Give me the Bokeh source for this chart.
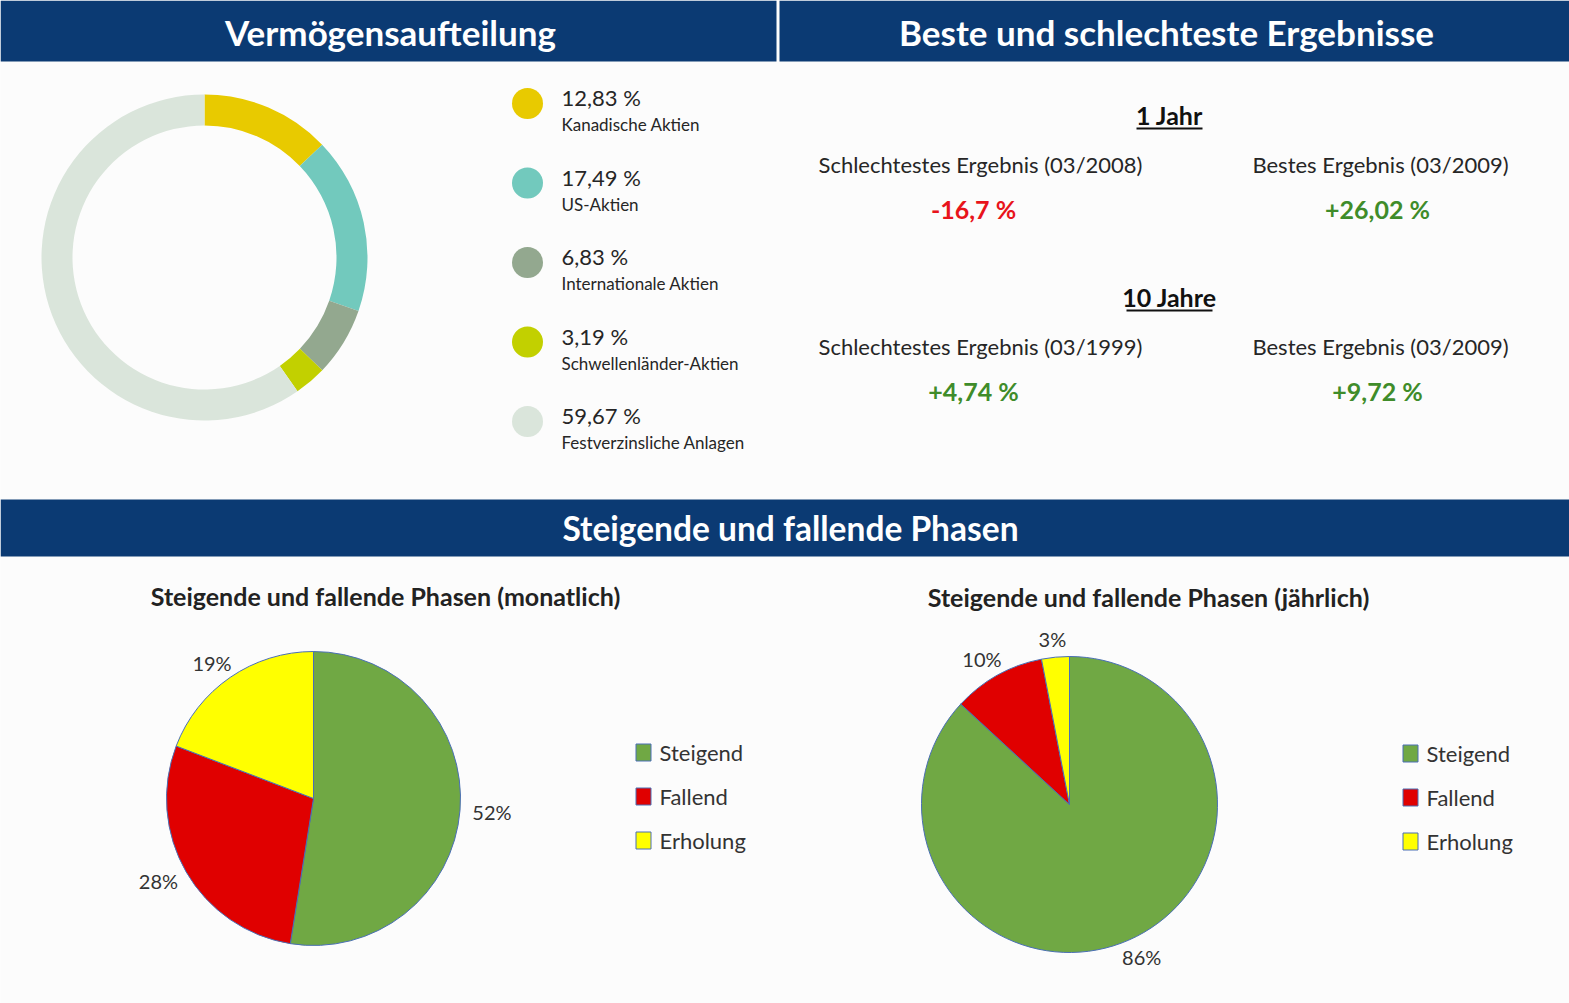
import math
from bokeh.plotting import figure
from bokeh.models import Range1d
from bokeh.embed import file_html
from bokeh.resources import INLINE
from bokeh.core.properties import value

# ---------------- data ----------------
alloc_labels = ["Kanadische Aktien", "US-Aktien", "Internationale Aktien",
                "Schwellenländer-Aktien", "Festverzinsliche Anlagen"]
alloc_values = [12.83, 17.49, 6.83, 3.19, 59.67]
alloc_colors = ["#E8CA00", "#72C9BD", "#93A88F", "#C2D000", "#DAE5DB"]

result_periods = ["1 Jahr", "10 Jahre"]
worst_labels = ["Schlechtestes Ergebnis (03/2008)", "Schlechtestes Ergebnis (03/1999)"]
worst_values = [-16.7, 4.74]
best_labels = ["Bestes Ergebnis (03/2009)", "Bestes Ergebnis (03/2009)"]
best_values = [26.02, 9.72]

phase_labels = ["Steigend", "Fallend", "Erholung"]
phase_colors = ["#70A844", "#E00000", "#FFFF00"]
monthly_values = [52, 28, 19]
yearly_values = [86, 10, 3]

headers = ["Vermögensaufteilung", "Beste und schlechteste Ergebnisse",
           "Steigende und fallende Phasen"]
pie_titles = ["Steigende und fallende Phasen (monatlich)",
              "Steigende und fallende Phasen (jährlich)"]

# ---------------- styling / layout ----------------
W, H = 1569, 1003
FONT = value("Lato")
NAVY = "#0B3A73"
TXT = "#262626"
RED = "#E8141B"
GREEN = "#3F8C2A"


def Y(t):
    return H - t


p = figure(width=W, height=H, x_range=Range1d(0, W), y_range=Range1d(0, H),
           output_backend="svg", toolbar_location=None,
           x_axis_location=None, y_axis_location=None, min_border=0)
p.grid.visible = False
p.outline_line_color = None
p.background_fill_color = "#FCFCFC"
p.border_fill_color = "#FCFCFC"

# header bars
p.quad(left=[0, 779, 0], right=[776, W, W], top=[Y(0), Y(0), Y(499)],
       bottom=[Y(61), Y(61), Y(556)], fill_color=NAVY, line_color=None)
p.text(x=[390, 1166], y=[Y(31), Y(31)], text=headers[:2],
       text_font=FONT, text_font_style="bold", text_font_size="35px",
       text_color="white", text_align="center", text_baseline="middle")
p.text(x=[790], y=[Y(527)], text=headers[2:],
       text_font=FONT, text_font_style="bold", text_font_size="33.5px",
       text_color="white", text_align="center", text_baseline="middle")

# ---------------- donut ----------------
tot = sum(alloc_values)
starts, ends, c = [], [], 0.0
for v in alloc_values:
    starts.append(math.pi / 2 - 2 * math.pi * c / tot)
    c += v
    ends.append(math.pi / 2 - 2 * math.pi * c / tot)
p.annular_wedge(x=204, y=Y(257), inner_radius=132, outer_radius=163,
                start_angle=starts, end_angle=ends, direction="clock",
                fill_color=alloc_colors, line_color=None)

ly = [103 + 79.5 * i for i in range(len(alloc_values))]
p.scatter(x=[527] * len(ly), y=[Y(v) for v in ly], size=31, marker="circle",
          fill_color=alloc_colors, line_color=None)
p.text(x=[561] * len(ly), y=[Y(v - 6) for v in ly],
       text=[("%.2f %%" % v).replace(".", ",") for v in alloc_values],
       text_font=FONT, text_font_size="22px", text_color=TXT,
       text_baseline="middle")
p.text(x=[561] * len(ly), y=[Y(v + 21) for v in ly], text=alloc_labels,
       text_font=FONT, text_font_size="17px", text_color=TXT,
       text_baseline="middle")

# ---------------- best / worst ----------------
def fmt(v):
    return ("%+g" % v).replace(".", ",") + " %"


row_top = [114, 296]
for i, per in enumerate(result_periods):
    t = row_top[i]
    p.text(x=[1169], y=[Y(t)], text=[per], text_font=FONT,
           text_font_style="bold", text_font_size="25px", text_color="#111111",
           text_align="center", text_baseline="middle")
    hw = 5.0 * len(per) + 3
    p.segment(x0=[1169 - hw], x1=[1169 + hw], y0=[Y(t + 14)], y1=[Y(t + 14)],
              line_color="#111111", line_width=2)
    p.text(x=[980, 1380], y=[Y(t + 50), Y(t + 50)],
           text=[worst_labels[i], best_labels[i]], text_font=FONT,
           text_font_size="22px", text_color=TXT, text_align="center",
           text_baseline="middle")
    vals = [worst_values[i], best_values[i]]
    p.text(x=[973, 1377], y=[Y(t + 94), Y(t + 94)], text=[fmt(v) for v in vals],
           text_font=FONT, text_font_style="bold", text_font_size="25px",
           text_color=[RED if v < 0 else GREEN for v in vals],
           text_align="center", text_baseline="middle")

# ---------------- pies ----------------
def pie(values, title, cx, cy, r, title_x, title_y, leg_x, leg_y):
    tot = sum(values)
    s, e, lx, lyy, c = [], [], [], [], 0.0
    for v in values:
        a0 = 2 * math.pi * c / tot
        c += v
        a1 = 2 * math.pi * c / tot
        s.append(math.pi / 2 - a0)
        e.append(math.pi / 2 - a1)
        m = (a0 + a1) / 2
        rr = r + 12
        lx.append(cx + rr * math.sin(m) + 20 * math.sin(m))
        lyy.append(Y(cy - rr * math.cos(m) - 6 * math.cos(m)))
    p.wedge(x=cx, y=Y(cy), radius=r, start_angle=s, end_angle=e,
            direction="clock", fill_color=phase_colors, line_color="#4A6FB5",
            line_width=1)
    p.text(x=lx, y=lyy, text=["%d%%" % v for v in values], text_font=FONT,
           text_font_size="20px", text_color="#333333", text_align="center",
           text_baseline="middle")
    p.text(x=[title_x], y=[Y(title_y)], text=[title],
           text_font=FONT, text_font_style="bold", text_font_size="25px",
           text_color="#222222", text_align="center", text_baseline="middle")
    gy = [leg_y + 44 * i for i in range(len(values))]
    p.rect(x=[leg_x] * len(gy), y=[Y(g) for g in gy], width=15, height=17,
           fill_color=phase_colors, line_color="#4A6FB5", line_width=1)
    p.text(x=[leg_x + 16] * len(gy), y=[Y(g) for g in gy], text=phase_labels,
           text_font=FONT, text_font_size="22px", text_color="#333333",
           text_baseline="middle")


pie(monthly_values, pie_titles[0], 313, 798, 147, 385, 595, 643, 752)
pie(yearly_values, pie_titles[1], 1069, 804, 148, 1148, 596, 1410, 753)

open("out.html", "w").write(file_html(p, INLINE))
